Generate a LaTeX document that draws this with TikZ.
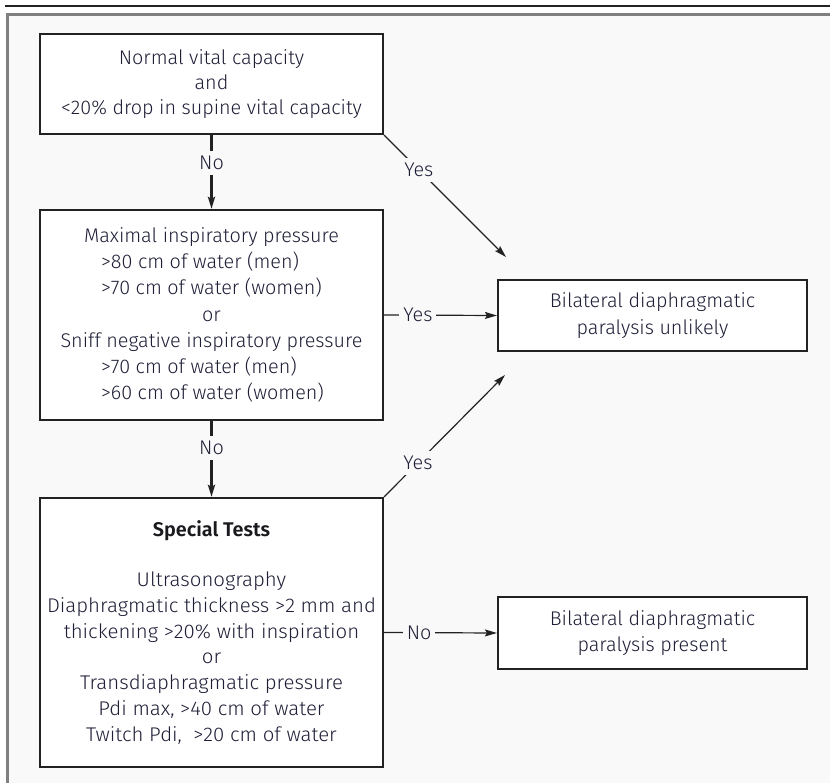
\documentclass[tikz,border=0pt]{standalone}
\usepackage{fontspec}
\IfFontExistsTF{Fira Sans Book}{\setmainfont{Fira Sans Book}[BoldFont={Fira Sans}]}{%
  \IfFontExistsTF{Fira Sans Light}{\setmainfont{Fira Sans Light}[BoldFont={Fira Sans}]}{\setmainfont{Fira Sans}}}
\IfFontExistsTF{Fira Sans SemiBold}{\newfontfamily\headfont{Fira Sans SemiBold}}{\newfontfamily\headfont{Fira Sans}}
\usetikzlibrary{arrows.meta}
\definecolor{bg}{RGB}{249,249,249}
\definecolor{framecol}{RGB}{128,128,128}
\definecolor{ink}{RGB}{34,34,34}
\definecolor{txt}{RGB}{30,30,55}
\definecolor{headtxt}{RGB}{25,25,30}
\newlength\indw
\newcommand\indl[1]{\makebox[\indw][l]{#1}}
\newcommand\sx[1]{\scalebox{1.03}[1]{#1}}
\newcommand\boxfont{\fontsize{19.8}{26.3}\selectfont}
\begin{document}
\settowidth\indw{\boxfont >70 cm of water (women)}%
\begin{tikzpicture}[x=1pt,y=-1pt,
  box/.style={draw=ink, line width=2.2pt, fill=white, inner sep=0pt, align=center, text=txt, font=\boxfont},
  conn/.style={draw=ink, line width=1.2pt},
  arr/.style={conn, -{Stealth[length=12pt,width=7pt,inset=2pt]}},
  varr/.style={arr, line width=2.4pt},
  lab/.style={fill=bg, text=txt, font=\fontsize{19.8}{22}\selectfont, inner xsep=4pt, inner ysep=5pt}]
\useasboundingbox (0,0) rectangle (830,783);
\fill[white] (0,0) rectangle (830,783);
\draw[ink, line width=2pt] (5,6) -- (830,6);
\begin{scope}
\clip (0,0) rectangle (830,783);
\draw[framecol, line width=3pt, fill=bg] (7,15) rectangle (845,800);
\end{scope}
\node[box, minimum width=343, minimum height=100, font=\fontsize{19.8}{25}\selectfont] (b1) at (211.5,84)
  {Normal vital capacity\\and\\<20\% drop in supine vital capacity};
\node[box, minimum width=343, minimum height=210] (b2) at (211.5,315)
  {Maximal inspiratory pressure\\\indl{>80 cm of water (men)}\\\indl{>70 cm of water (women)}\\or\\Sniff negative inspiratory pressure\\\indl{>70 cm of water (men)}\\\indl{>60 cm of water (women)}};
\node[box, minimum width=343, minimum height=269, font=\fontsize{19.8}{25.8}\selectfont] (b3) at (211.5,632.5)
  {\textcolor{headtxt}{\headfont Special Tests}\\[24pt]\sx{Ultrasonography}\\\sx{Diaphragmatic thickness >2 mm and}\\\sx{thickening >20\% with inspiration}\\\sx{or}\\\sx{Transdiaphragmatic pressure}\\\sx{Pdi max, >40 cm of water}\\\sx{Twitch Pdi, \ >20 cm of water}};
\node[box, minimum width=309, minimum height=71] (r1) at (652.5,315.5)
  {Bilateral diaphragmatic\\paralysis unlikely};
\node[box, minimum width=309, minimum height=72] (r2) at (652.5,633)
  {Bilateral diaphragmatic\\paralysis present};
\coordinate (e1) at (506,257);
\coordinate (e3) at (505,375);
\draw[varr] (b1.south) -- node[lab, pos=0.38] (n1) {No} (b2.north);
\draw[varr] (b2.south) -- node[lab, pos=0.35] (n2) {No} (b3.north);
\draw[arr] (b1.south east) -- node[lab, pos=0.285] (y1) {Yes} (e1);
\draw[arr] (b2.east) -- node[lab, pos=0.3] (y2) {Yes} (r1.west);
\draw[arr] (b3.north east) -- node[lab, pos=0.28] (y3) {Yes} (e3);
\draw[arr] (b3.east) -- node[lab, pos=0.31] (n3) {No} (r2.west);
\end{tikzpicture}
\end{document}
